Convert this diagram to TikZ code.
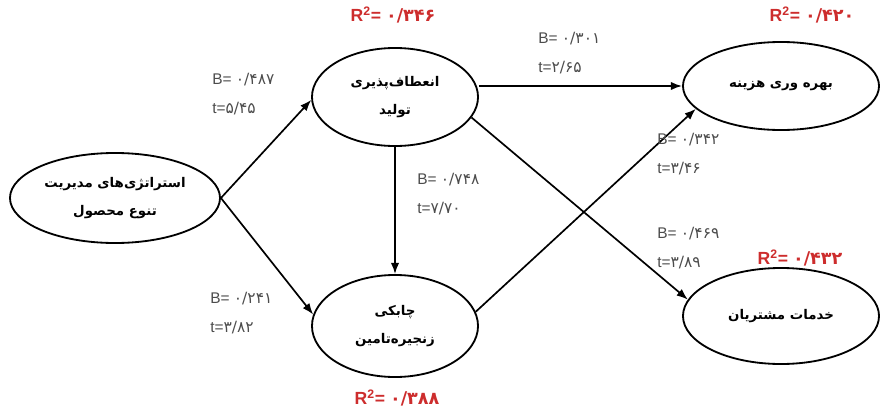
\documentclass[tikz,border=0pt]{standalone}
\usepackage{fontspec}
\setmainfont{Liberation Sans}
\newfontfamily\farsi[Script=Arabic]{DejaVu Sans}
\TeXXeTstate=1
\usetikzlibrary{arrows,arrows.meta,shapes}
\definecolor{rsqred}{RGB}{205,45,45}
\newcommand{\fnum}[1]{{\farsi #1}}
\tikzstyle{construct}=[ellipse,draw,line width=1.3pt,inner sep=0pt,align=center,font=\farsi\bfseries\fontsize{9.5}{20}\selectfont]
\tikzstyle{edge} = [draw,line width=1.2pt,-{Latex[length=8pt,width=6pt]}]
\tikzstyle{weight} = [anchor=north west,inner sep=0pt,align=left,text=black!70,font=\fontsize{11}{20.5}\selectfont]
\tikzstyle{rsq} = [inner sep=0pt,text=rsqred,font=\bfseries\fontsize{12.5}{14}\selectfont]

\begin{document}
\begin{tikzpicture}[x=0.025cm,y=-0.025cm]
    \useasboundingbox (0,0) rectangle (893,414);
    % First we draw the constructs
    \foreach \pos/\name/\w/\h/\txt in {
        {(115,198)/S/5.25/2.25/{\beginR استراتژی‌های مدیریت\endR\\\beginR تنوع محصول\endR}},
        {(395,97)/F/4.15/2.45/{\beginR انعطاف‌پذیری\endR\\\beginR تولید\endR}},
        {(395,326)/A/4.15/2.55/{\beginR چابکی\endR\\\beginR زنجیره‌تامین\endR}},
        {(781,86)/CE/4.9/2.2/{\beginR بهره وری هزینه\endR}},
        {(781,316)/CS/4.9/2.4/{\beginR خدمات مشتریان\endR}}}
        \node[construct,minimum width=\w cm,minimum height=\h cm] (\name) at \pos {\txt};

    % Connect constructs with paths
    \foreach \source/ \dest in {S.east/F.182, S.east/A.172, F.south/A.north, F.-15/CS.170, A.10/CE.195}
        \path[edge] (\source) -- (\dest);
    \path[edge] (F.east |- CE.west) -- (CE.west);

    % Path coefficients
    \foreach \pos/ \name/ \bval/ \tval in {{(212,73)/w1/{۰/۴۸۷}/{۵/۴۵}},{(210,292)/w2/{۰/۲۴۱}/{۳/۸۲}},
        {(417,173)/w3/{۰/۷۴۸}/{۷/۷۰}},{(538,32)/w4/{۰/۳۰۱}/{۲/۶۵}},
        {(657,133)/w5/{۰/۳۴۲}/{۳/۴۶}},{(657,227)/w6/{۰/۴۶۹}/{۳/۸۹}}}
        \node[weight] (\name) at \pos {B= \fnum{\bval}\\t=\fnum{\tval}};

    % R squared of the endogenous constructs
    \foreach \pos/ \name/ \rval in {{(393,15)/r1/{۰/۳۴۶}},{(812,15)/r2/{۰/۴۲۰}},
        {(800,258)/r3/{۰/۴۳۲}},{(397,398)/r4/{۰/۳۸۸}}}
        \node[rsq] (\name) at \pos {R\textsuperscript{2}= \fnum{\rval}};
\end{tikzpicture}
\end{document}
